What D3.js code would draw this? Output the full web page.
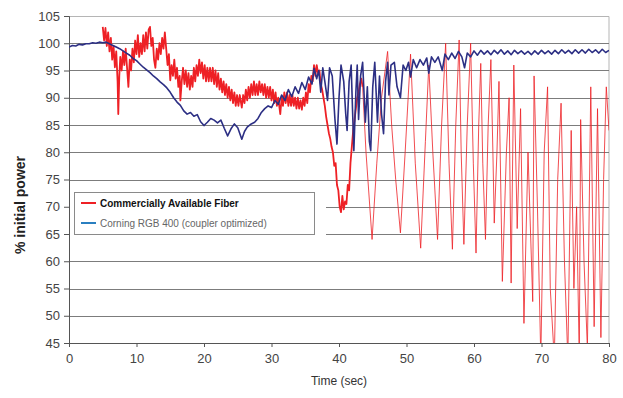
<!DOCTYPE html>
<html>
<head>
<meta charset="utf-8">
<script src="https://cdn.jsdelivr.net/npm/d3@7"></script>
<style>
  body { margin: 0; background: #fff; }
  svg { display: block; font-family: Arial, "Liberation Sans", sans-serif; }
</style>
</head>
<body>
<div id="chart"></div>
<script>
// tick values
const xTicks = [0, 10, 20, 30, 40, 50, 60, 70, 80];
const yTicks = [45, 50, 55, 60, 65, 70, 75, 80, 85, 90, 95, 100, 105];

const legendLabels = ['Commercially Available Fiber', 'Corning RGB 400 (coupler optimized)'];

// [time (sec), % initial power]
const redSeries = [
  [5.0, 103], [5.2, 100.5], [5.4, 102.8], [5.6, 99.5], [5.8, 102], [6.0, 98.5], [6.2, 101], [6.4, 97],
  [6.6, 99.5], [6.8, 95.6], [7.0, 98.5], [7.2, 93], [7.3, 87], [7.45, 94], [7.6, 97.5], [7.8, 95],
  [8.0, 98.5], [8.2, 96], [8.4, 99], [8.6, 95.5], [8.8, 92], [9.0, 97], [9.2, 95], [9.4, 99],
  [9.6, 96.5], [9.8, 100.5], [10.0, 98], [10.2, 101.5], [10.4, 97.5], [10.6, 100], [10.8, 98], [11.0, 101.5],
  [11.2, 98.5], [11.4, 102], [11.6, 99], [11.8, 102.5], [12.0, 103], [12.2, 99.5], [12.4, 101], [12.6, 97],
  [12.8, 95.5], [13.0, 99], [13.2, 97], [13.4, 100], [13.6, 98], [13.8, 101], [14.0, 99], [14.2, 102],
  [14.4, 99], [14.6, 96], [14.8, 98], [15.0, 93.2], [15.2, 96], [15.4, 94], [15.6, 97], [15.8, 93.5],
  [16.0, 95.5], [16.2, 92], [16.4, 94], [16.5, 89.5], [16.7, 93], [16.9, 95.5], [17.1, 92.5], [17.3, 95],
  [17.5, 92], [17.7, 94.5], [17.9, 91.5], [18.1, 94], [18.3, 92], [18.5, 95.5], [18.7, 93], [18.9, 96],
  [19.1, 94], [19.3, 97], [19.5, 94.5], [19.7, 96.5], [19.9, 93.5], [20.1, 96], [20.3, 93], [20.5, 95.5],
  [20.7, 93], [20.9, 95.5], [21.1, 93], [21.3, 95.5], [21.5, 92.5], [21.7, 95], [21.9, 92], [22.1, 94.5],
  [22.3, 91.5], [22.5, 93.5], [22.7, 91], [22.9, 93], [23.1, 90.5], [23.3, 92.5], [23.5, 90], [23.7, 92],
  [23.9, 89.5], [24.1, 91.5], [24.3, 89], [24.5, 91], [24.7, 88.5], [24.9, 90.5], [25.1, 88.5], [25.3, 90.5],
  [25.6, 88.2], [25.8, 90.5], [26.0, 89], [26.2, 91.5], [26.4, 89.5], [26.6, 92], [26.8, 90], [27.0, 92.5],
  [27.2, 90.5], [27.4, 93], [27.6, 90.5], [27.8, 92.5], [28.0, 90.5], [28.2, 93], [28.4, 91], [28.6, 92.5],
  [28.8, 90.5], [29.0, 92.5], [29.2, 90], [29.4, 92], [29.6, 90], [29.8, 92], [30.0, 89.5], [30.2, 91.5],
  [30.4, 89], [30.6, 91], [30.8, 88.5], [31.0, 90], [31.3, 87], [31.5, 90], [31.7, 88.5], [31.9, 91],
  [32.1, 89], [32.3, 91], [32.5, 88.5], [32.7, 90.5], [32.9, 88.5], [33.1, 90.5], [33.3, 88.5], [33.5, 90],
  [33.7, 88], [33.9, 90], [34.1, 88], [34.3, 89.5], [34.5, 87.8], [34.7, 90], [34.9, 88.5], [35.1, 91],
  [35.3, 89], [35.5, 92.5], [35.7, 91], [35.9, 94], [36.1, 93], [36.3, 96], [36.5, 94], [36.7, 96],
  [36.9, 94.5], [37.1, 95], [37.3, 92.5], [37.5, 91.5], [37.7, 90], [37.9, 88.5], [38.1, 86.5], [38.3, 85],
  [38.5, 83.5], [38.7, 82.5], [38.9, 81], [39.1, 80], [39.3, 77.5], [39.5, 78], [39.7, 74], [39.9, 73],
  [40.1, 70], [40.3, 69], [40.5, 72], [40.7, 69.5], [40.9, 71], [41.1, 70.5], [41.3, 74], [41.5, 73],
  [41.7, 78], [41.9, 81], [42.1, 84], [42.3, 86], [42.5, 88], [42.7, 90], [42.9, 91], [43.1, 92.5],
  [43.3, 93.5], [43.5, 92], [44.0, 80], [44.9, 64], [45.6, 78], [46.3, 90], [47.2, 98.5], [47.8, 85],
  [48.4, 75], [49.1, 65.2], [49.8, 80], [50.6, 98], [51.3, 78], [52.1, 62.4], [52.8, 82], [53.3, 96],
  [53.9, 80], [54.6, 64], [55.2, 85], [55.8, 100], [56.3, 78], [56.8, 62.2], [57.3, 85], [57.8, 100.6],
  [58.1, 80], [58.5, 63.1], [59.0, 85], [59.5, 100], [59.9, 78], [60.3, 61.5], [60.7, 85], [61.0, 96.3],
  [61.3, 78], [61.7, 64], [62.1, 85], [62.5, 97], [62.8, 80], [63.0, 67], [63.4, 80], [63.7, 93],
  [64.2, 56.3], [64.8, 80], [65.2, 90], [65.5, 56], [65.9, 96], [66.4, 66], [66.9, 88], [67.4, 48.6],
  [68.0, 80], [68.7, 52.6], [68.9, 94], [69.4, 70], [69.9, 42], [70.4, 80], [70.9, 92], [71.3, 55],
  [71.9, 42], [72.4, 75], [72.9, 89], [73.4, 60], [73.9, 42], [74.4, 84], [74.8, 55], [75.2, 70],
  [75.6, 42], [75.8, 86], [76.3, 60], [76.8, 44], [77.3, 92], [77.8, 48], [78.3, 88], [78.8, 46],
  [79.2, 75], [79.6, 92], [80.0, 84]
];

const blueSeries = [
  [0, 99.3], [0.5, 99.6], [1, 99.5], [1.5, 99.8], [2, 99.7], [2.5, 99.9], [3, 99.9], [3.5, 100.1],
  [4, 100], [4.5, 100.2], [5, 100.1], [5.5, 100.2], [6, 99.9], [6.5, 99.6], [7, 99.3], [7.5, 99],
  [8, 98.6], [8.5, 98.2], [9, 97.8], [9.5, 97.2], [10, 96.8], [10.5, 96.2], [11, 95.6], [11.5, 95.1],
  [12, 94.6], [12.5, 94], [13, 93.5], [13.5, 92.9], [14, 92.4], [14.5, 91.8], [15, 91], [15.5, 90],
  [16, 89.2], [16.5, 88.6], [17, 87.6], [17.5, 87], [18, 87.3], [18.5, 86.6], [19, 86.9], [19.5, 85.6],
  [20, 84.9], [20.5, 85.5], [21, 86.2], [21.5, 85.9], [22, 85.4], [22.5, 85.9], [23, 84.4], [23.5, 83],
  [24, 84.3], [24.5, 85.2], [25, 84.5], [25.6, 82.4], [26, 83.8], [26.4, 84.6], [27, 85.2], [27.5, 85.5],
  [28, 86.2], [28.5, 87.3], [29, 88], [29.5, 88.5], [30, 88.2], [30.5, 89.5], [31, 88.8], [31.5, 90.5],
  [32, 89.5], [32.5, 91.5], [33, 90.2], [33.5, 92], [34, 90.8], [34.5, 92.8], [35, 91.5], [35.5, 93.8],
  [36, 92.5], [36.3, 95.4], [36.7, 93.5], [37.0, 95], [37.3, 91], [37.6, 95.5], [37.9, 93], [38.3, 89.5],
  [38.6, 95.5], [39.0, 94], [39.4, 86], [39.7, 81.5], [40.0, 90], [40.3, 96], [40.7, 93], [41.0, 87],
  [41.2, 84], [41.5, 93], [41.8, 96], [42.0, 88], [42.2, 80.3], [42.5, 91], [42.7, 96], [42.9, 86],
  [43.2, 94], [43.5, 96.5], [43.9, 85.5], [44.2, 92], [44.5, 82], [44.7, 80.3], [45.0, 92], [45.3, 96.5],
  [45.7, 85.5], [46.0, 94], [46.3, 87], [46.6, 83.4], [46.9, 93], [47.2, 96.5], [47.4, 90.5], [47.7, 96],
  [48.2, 96.5], [48.6, 92], [49.1, 90], [49.5, 96], [49.9, 95], [50.3, 96.5], [50.6, 93.8], [51.0, 97],
  [51.5, 95.5], [52.0, 97], [52.5, 96], [53.0, 97.3], [53.3, 94.5], [53.7, 97.5], [54.2, 96.5], [54.7, 97.5],
  [55.3, 95], [55.7, 98], [56.2, 97], [56.7, 98.2], [57.2, 97.2], [57.7, 98.5], [58.2, 97.5], [58.6, 95.5],
  [59.0, 98.2], [59.5, 97.5], [60.0, 98.6], [60.5, 97.8], [61.0, 98.7], [61.5, 98], [62.0, 98.6], [62.5, 97.9],
  [63.0, 98.7], [63.5, 98.1], [64.0, 98.8], [64.5, 98], [65.0, 98.6], [65.5, 97.9], [66.0, 98.7], [66.5, 98.1],
  [67.0, 98.6], [67.5, 98], [68.0, 98.5], [68.5, 97.9], [69.0, 98.6], [69.5, 98], [70.0, 98.7], [70.5, 98.1],
  [71.0, 98.6], [71.5, 98], [72.0, 98.7], [72.5, 98.1], [73.0, 98.8], [73.5, 98.2], [74.0, 98.7], [74.5, 98.1],
  [75.0, 98.8], [75.5, 98.2], [76.0, 98.8], [76.5, 98.2], [77.0, 98.9], [77.5, 98.3], [78.0, 98.8], [78.5, 98.2],
  [79.0, 98.9], [79.5, 98.3], [80.0, 98.7]
];

// the noisy early part of the red trace is drawn heavier than the later oscillations
const redSplitTime = 43.5;

const width = 623, height = 398;
const margin = { top: 16, right: 14, bottom: 55, left: 69 };
const innerW = width - margin.left - margin.right;
const innerH = height - margin.top - margin.bottom;

const redColor = '#ee2025';
const blueColor = '#2c2f84';

const svg = d3.select('#chart').append('svg')
  .attr('width', width)
  .attr('height', height);

svg.append('rect').attr('width', width).attr('height', height).attr('fill', '#fff');

const chart = svg.append('g')
  .attr('transform', `translate(${margin.left},${margin.top})`);

const x = d3.scaleLinear().domain([0, 80]).range([0, innerW]);
const y = d3.scaleLinear().domain([45, 105]).range([innerH, 0]);

// frame (top + right)
chart.append('path')
  .attr('d', `M0,0.5H${innerW}V${innerH}`)
  .attr('fill', 'none')
  .attr('stroke', '#b5b5b5');

// gridlines
chart.append('g')
  .selectAll('line')
  .data(yTicks.filter(d => d > 45 && d < 105))
  .join('line')
  .attr('x1', 0)
  .attr('x2', innerW)
  .attr('y1', d => Math.round(y(d)) + 0.5)
  .attr('y2', d => Math.round(y(d)) + 0.5)
  .attr('stroke', '#7c7c7c');

// axes
const yAxis = chart.append('g')
  .call(d3.axisLeft(y).tickValues(yTicks).tickSize(5).tickPadding(4));
const xAxis = chart.append('g')
  .attr('transform', `translate(0,${innerH})`)
  .call(d3.axisBottom(x).tickValues(xTicks).tickSize(4).tickPadding(7));

[xAxis, yAxis].forEach(a => {
  a.select('.domain').attr('stroke', '#555');
  a.selectAll('.tick line').attr('stroke', '#555');
  a.selectAll('.tick text')
    .attr('fill', '#444')
    .style('font-size', '13px')
    .style('font-family', 'Arial, "Liberation Sans", sans-serif');
});

// data
chart.append('clipPath').attr('id', 'plot-clip')
  .append('rect').attr('width', innerW).attr('height', innerH);

const line = d3.line()
  .x(d => x(d[0]))
  .y(d => y(d[1]));

const plot = chart.append('g').attr('clip-path', 'url(#plot-clip)');

plot.append('path')
  .datum(redSeries.filter(d => d[0] <= redSplitTime))
  .attr('d', line)
  .attr('fill', 'none')
  .attr('stroke', redColor)
  .attr('stroke-width', 1.8)
  .attr('stroke-linejoin', 'round');

plot.append('path')
  .datum(redSeries.filter(d => d[0] >= redSplitTime))
  .attr('d', line)
  .attr('fill', 'none')
  .attr('stroke', redColor)
  .attr('stroke-opacity', 0.8)
  .attr('stroke-width', 1)
  .attr('stroke-linejoin', 'round');

plot.append('path')
  .datum(blueSeries)
  .attr('d', line)
  .attr('fill', 'none')
  .attr('stroke', blueColor)
  .attr('stroke-width', 1.6)
  .attr('stroke-linejoin', 'round');

// legend
const legend = chart.append('g');
legend.append('rect')
  .attr('x', 1).attr('y', 172)
  .attr('width', 256).attr('height', 50)
  .attr('fill', '#fff');
legend.append('rect')
  .attr('x', 5.5).attr('y', 176.5)
  .attr('width', 240).attr('height', 42)
  .attr('fill', '#fff')
  .attr('stroke', '#8a8a8a');

const legendRows = legend.selectAll('g.row')
  .data(legendLabels)
  .join('g')
  .attr('class', 'row')
  .attr('transform', (d, i) => `translate(12,${187 + i * 20})`);

legendRows.append('line')
  .attr('x1', 0).attr('x2', 15)
  .attr('stroke', (d, i) => i === 0 ? redColor : '#2a7fc0')
  .attr('stroke-width', 2);

legendRows.append('text')
  .attr('x', 19)
  .attr('dy', '0.35em')
  .style('font-size', '10px')
  .style('font-weight', (d, i) => i === 0 ? 'bold' : 'normal')
  .attr('fill', (d, i) => i === 0 ? '#111' : '#666')
  .text(d => d);

// axis titles
svg.append('text')
  .attr('transform', `translate(25,205) rotate(-90)`)
  .attr('text-anchor', 'middle')
  .style('font-size', '14px')
  .style('font-weight', 'bold')
  .attr('fill', '#222')
  .text('% initial power');

svg.append('text')
  .attr('x', 339)
  .attr('y', 385)
  .attr('text-anchor', 'middle')
  .style('font-size', '12px')
  .attr('fill', '#333')
  .text('Time (sec)');
</script>
</body>
</html>
